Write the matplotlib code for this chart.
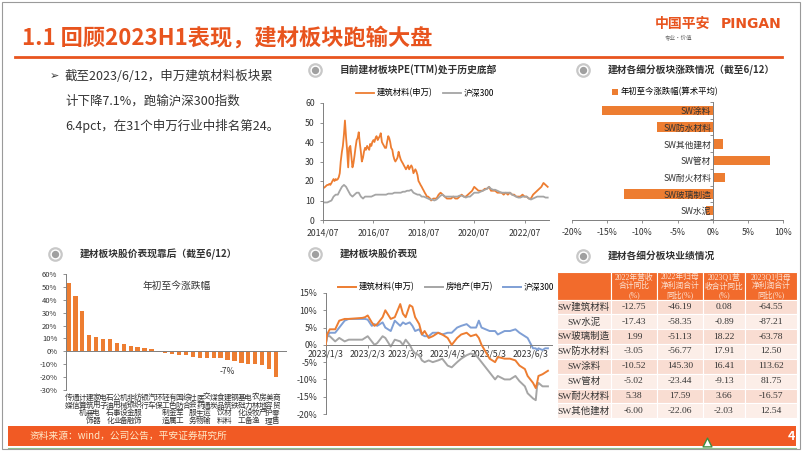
import numpy as np
import pandas as pd
import matplotlib
matplotlib.use('Agg')
import matplotlib.pyplot as plt
from matplotlib.patches import Rectangle
import matplotlib.dates as mdates
from matplotlib.ticker import FuncFormatter

plt.rcParams['font.family'] = ['Noto Sans CJK SC', 'DejaVu Sans']
plt.rcParams['axes.unicode_minus'] = False

W, H = 802, 451
ORANGE = '#ED7D31'
GRAY = '#A5A5A5'
BLUE = '#7F9FD5'
RED = '#E8541E'
TXT = '#333333'

# ---- PE(TTM) 数据 ----
pe_bm_dates = list(pd.date_range('2014-07-01', '2018-12-16', freq='SMS')) + \
    list(pd.date_range('2019-01-01', '2023-06-01', freq='MS'))
pe_bm = [17, 16.5, 17, 17.5, 18, 18, 18.5, 18, 19, 20, 21, 20,
         21, 20.5, 21, 22, 24, 30, 35, 38, 44, 51, 42, 36,
         27, 37, 38, 33, 27, 29, 33, 37, 41, 42, 45, 40,
         35, 30, 32, 35, 37, 36, 38, 37, 36, 39, 38, 40,
         41, 40, 42, 43, 41, 42, 43, 44.5, 40, 39, 38, 37,
         37, 40, 43, 42, 40, 37, 36, 33, 31, 30, 31, 32,
         35, 33, 31, 30, 29, 28, 27, 26, 27, 28, 26, 27,
         28, 27, 24, 25, 26, 25, 23, 20, 19, 18, 17, 16,
         15, 14, 13, 12, 12, 11.5, 11, 10, 10.5, 11, 11, 11,
         11, 13, 14, 13, 12, 11, 11, 11, 12, 11, 11, 12,
         13, 12, 12, 13, 14, 15, 17, 16, 15, 15, 15, 16,
         16, 17, 15, 15, 15, 14, 14, 14, 13, 14, 13, 14,
         13, 13, 12, 12, 12, 13, 12, 12, 11, 11, 13, 14,
         15, 16, 17, 19, 18, 17]
pe_hs_dates = pd.date_range('2014-07-01', '2023-06-01', freq='MS')
pe_hs = [9, 9, 9, 9.5, 10, 12,
         13, 13, 15, 17, 18, 17, 15, 13, 12, 13, 14, 14,
         12, 11, 12, 12, 12, 12, 12.5, 13, 13, 13, 13, 13,
         13, 13.5, 13.5, 13.5, 14, 14, 14, 14, 14.5, 14.5, 15, 15,
         15.5, 14, 13.5, 13, 13, 12, 12, 11.5, 11, 10.5, 10.5, 10,
         10.5, 11.5, 12.5, 13, 12, 12, 12, 12, 12, 12, 12, 12.5,
         12.5, 12, 11.5, 12, 12, 13, 14, 14, 14, 14.5, 15, 15.5,
         16, 17, 16, 15.5, 15.5, 15, 14.5, 14, 14, 14, 14, 14,
         13, 12.5, 12, 11.5, 11.5, 12, 12, 12, 11, 10.5, 11, 11.5,
         12, 12, 12, 12, 11.5, 11.5]

# ---- 细分板块涨跌 ----
sub_names = ['SW涂料', 'SW防水材料', 'SW其他建材', 'SW管材', 'SW耐火材料', 'SW玻璃制造', 'SW水泥']
sub_chg = [-15.7, -7.9, 1.5, 8.2, 1.7, -12.6, -0.9]

# ---- 申万行业涨跌 ----
ind_names = ['传媒', '通信', '计算机', '建筑装饰', '家用电器', '电子', '石油石化', '公用事业',
             '机械设备', '非银金融', '纺织服饰', '银行', '汽车', '环保', '轻工制造', '有色金属',
             '国防军工', '综合', '社会服务', '医药生物', '交通运输', '煤炭', '食品饮料', '建筑材料',
             '钢铁', '基础化工', '电力设备', '农林牧渔', '房地产', '美容护理', '商贸零售']
ind_chg = [53, 43.4, 31, 12.4, 10.9, 9.8, 9.8, 6.2, 5.7, 4.4, 3.1, 2.8, 2.1, -0.5, -1.5, -2.3,
           -2.6, -3.1, -4.4, -4.9, -4.9, -5.2, -5.4, -7.1, -7.7, -9, -10, -10.3, -11, -14, -19.9]

# ---- 2023 股价表现 ----
px_dates = ['01-03', '01-04', '01-06', '01-10', '01-13', '01-17', '01-20', '01-30', '02-01', '02-03',
            '02-06', '02-08', '02-10', '02-14', '02-16', '02-20', '02-23', '02-27', '03-01', '03-03',
            '03-06', '03-08', '03-10', '03-13', '03-15', '03-17', '03-20', '03-23', '03-27', '03-30',
            '04-03', '04-06', '04-10', '04-13', '04-17', '04-20', '04-24', '04-26', '04-28', '05-04',
            '05-08', '05-10', '05-15', '05-19', '05-23', '05-26', '05-30', '06-01', '06-05', '06-07',
            '06-08', '06-09', '06-12', '06-14', '06-16']
px_bm = [0, 3, 4.5, 4.5, 7, 7.5, 7.5, 7.8, 8, 8.5, 6.5, 5.5, 6, 8, 10, 7.5, 8, 11.8, 9, 8,
         11.5, 11, 8, 6, 3, 4, 2, 2.5, 3.5, 3, 2, 0, 2, 3, 3.5, 2.5, 3, 2, 0, -4,
         -5, -3.5, -4, -4, -4.5, -6, -7, -9, -11, -12.5, -11, -9, -8.5, -8, -7.5]
px_re = [0, 2.5, 2.5, 1, 2, 1, 1.5, 1.5, 2, 2.5, 1, 0, 0.5, 2.5, 2, -0.5, 1.5, 1, 0, 1.5,
         0, -1.5, -2.5, -3, -4.5, -5, -4.5, -5, -4.5, -4, -6, -6.5, -5, -4, -3, -2.5, -3, -4, -5, -8,
         -10, -9, -10, -10, -9, -10.5, -12, -14, -15.5, -16, -12, -11, -12, -12, -12]
px_hs = [0, 2.5, 3.5, 3.5, 5, 7, 7.5, 7.5, 7.5, 7.3, 5.5, 6, 5.5, 6.5, 5, 4, 7, 5.5, 6.5, 6,
         6.5, 5.5, 4, 4.5, 3, 2.5, 2.5, 3.5, 3.5, 3, 3.5, 3.5, 5, 5.5, 6, 5, 5, 7, 5, 4,
         4, 3, 4, 4, 4.5, 3.5, 2.5, 2, -1, -1, -1.5, -1, -1.5, -1, -1]

# ---- 业绩表 ----
tbl_header = ['', '2022年营收\n合计同比\n(%)', '2022年归母\n净利润合计\n同比(%)',
              '2023Q1营\n收合计同比\n(%)', '2023Q1归母\n净利润合计\n同比(%)']
tbl_rows = ['SW建筑材料', 'SW水泥', 'SW玻璃制造', 'SW防水材料', 'SW涂料', 'SW管材', 'SW耐火材料', 'SW其他建材']
rev22 = ['-12.75', '-17.43', '1.99', '-3.05', '-10.52', '-5.02', '5.38', '-6.00']
np22 = ['-46.19', '-58.35', '-51.13', '-56.77', '145.30', '-23.44', '17.59', '-22.06']
rev23 = ['0.08', '-0.89', '18.22', '17.91', '16.41', '-9.13', '3.66', '-2.03']
np23 = ['-64.55', '-87.21', '-63.78', '12.50', '113.62', '81.75', '-16.57', '12.54']


def rect(x0, y0, x1, y1):
    return [x0 / W, 1 - y1 / H, (x1 - x0) / W, (y1 - y0) / H]


def style(ax, fs=6):
    for s in ['top', 'right']:
        ax.spines[s].set_visible(False)
    for s in ['left', 'bottom']:
        ax.spines[s].set_color('#7F7F7F')
        ax.spines[s].set_linewidth(0.7)
    ax.tick_params(labelsize=fs, colors=TXT, length=2.5, width=0.6)
    ax.tick_params(axis='both', color='#7F7F7F')


pct = FuncFormatter(lambda v, p: f'{v:.0f}%')

fig = plt.figure(figsize=(W / 100, H / 100), dpi=100)

# PE chart
ax1 = fig.add_axes(rect(323, 103, 549, 220))
style(ax1, fs=6.3)
ax1.plot(pe_bm_dates, pe_bm, color=ORANGE, lw=1.3, label='建筑材料(申万)')
ax1.plot(pe_hs_dates, pe_hs, color=GRAY, lw=1.3, label='沪深300')
ax1.set_ylim(0, 60)
ax1.set_yticks(range(0, 61, 10))
ax1.set_xlim(pd.Timestamp('2014-07-01'), pd.Timestamp('2023-06-20'))
ax1.set_xticks([pd.Timestamp(f'{y}-07-01') for y in range(2014, 2023, 2)])
ax1.xaxis.set_major_formatter(mdates.DateFormatter('%Y/%m'))
ax1.legend(loc='center', bbox_to_anchor=(425 / W, 1 - 93 / H), bbox_transform=fig.transFigure,
           ncol=2, frameon=False, fontsize=6, handlelength=2.2, columnspacing=1.2, handletextpad=0.3)

# 细分板块涨跌
ax2 = fig.add_axes(rect(572, 102, 783, 220))
style(ax2, fs=6.3)
yy = np.arange(len(sub_names))
ax2.barh(yy, sub_chg, height=0.56, color=ORANGE, label='年初至今涨跌幅(算术平均)')
ax2.set_xlim(-20, 10)
ax2.set_ylim(6.55, -0.3)
ax2.set_xticks(range(-20, 11, 5))
ax2.xaxis.set_major_formatter(pct)
ax2.spines['left'].set_position(('data', 0))
ax2.set_yticks(yy)
ax2.set_yticklabels(sub_names)
ax2.tick_params(axis='y', which='major', length=0, pad=1, labelsize=6.3)
ax2.set_yticks(np.arange(-0.5, 7, 1), minor=True)
ax2.tick_params(axis='y', which='minor', length=2.5, color='#7F7F7F')
ax2.legend(loc='center', bbox_to_anchor=(665 / W, 1 - 92 / H), bbox_transform=fig.transFigure,
           frameon=False, fontsize=6, handlelength=0.8, handleheight=0.8, handletextpad=0.3)

# 申万行业
ax3 = fig.add_axes(rect(65.7, 274.3, 287, 389.7))
style(ax3, fs=5.5)
xx = np.arange(len(ind_names))
ax3.bar(xx, ind_chg, width=0.62, color=ORANGE)
ax3.axhline(0, color='#7F7F7F', lw=0.7)
ax3.spines['bottom'].set_visible(False)
ax3.set_ylim(-30, 60)
ax3.set_yticks(range(-30, 61, 10))
ax3.yaxis.set_major_formatter(pct)
ax3.set_xlim(-0.4, 31.6)
ax3.set_xticks(xx)
ax3.set_xticklabels(['\n'.join(n) for n in ind_names], fontsize=5.5, linespacing=0.95)
ax3.tick_params(axis='x', length=0, pad=3)
ax3.text(0.5, 0.9, '年初至今涨跌幅', transform=ax3.transAxes, ha='center', va='center',
         fontsize=7, color=TXT)
ax3.annotate('-7%', (23, ind_chg[23]), xytext=(0, -5), textcoords='offset points',
             ha='center', va='top', fontsize=6, color=TXT)

# 股价表现
ax4 = fig.add_axes(rect(325.7, 293, 552, 414))
style(ax4, fs=6.3)
d4 = pd.to_datetime(['2023-' + d for d in px_dates])
ax4.plot(d4, px_bm, color=ORANGE, lw=1.4, label='建筑材料(申万)', zorder=3)
ax4.plot(d4, px_re, color=GRAY, lw=1.4, label='房地产(申万)')
ax4.plot(d4, px_hs, color=BLUE, lw=1.4, label='沪深300')
ax4.set_ylim(-20, 15)
ax4.set_yticks(range(-20, 16, 5))
ax4.yaxis.set_major_formatter(pct)
ax4.spines['bottom'].set_position(('data', 0))
ax4.set_xlim(pd.Timestamp('2023-01-03'), pd.Timestamp('2023-06-19'))
ax4.set_xticks(pd.to_datetime(['2023-01-03', '2023-02-03', '2023-03-03', '2023-04-03',
                               '2023-05-03', '2023-06-03']))
ax4.set_xticklabels(['2023/1/3', '2023/2/3', '2023/3/3', '2023/4/3', '2023/5/3', '2023/6/3'])
ax4.tick_params(axis='x', pad=1)
ax4.legend(loc='center', bbox_to_anchor=(446 / W, 1 - 287 / H), bbox_transform=fig.transFigure,
           ncol=3, frameon=False, fontsize=6, handlelength=2.2, columnspacing=1.2, handletextpad=0.3)

# overlay: text, table, decorations
ov = fig.add_axes([0, 0, 1, 1], zorder=10)
ov.set_xlim(0, W)
ov.set_ylim(H, 0)
ov.axis('off')

ov.add_patch(Rectangle((1.5, 1.5), W - 3.5, H - 3.5, fill=False, ec='#9A9A9A', lw=0.8))
ov.text(22, 38, '1.1 回顾2023H1表现，建材板块跑输大盘', fontsize=16, color=RED,
        va='center', ha='left', fontweight='bold')
ov.plot([15, 782], [57, 57], color=RED, lw=2)
ov.text(655, 24, '中国平安', fontsize=10, color=RED, va='center', ha='left', fontweight='bold')
ov.text(721, 24, 'PINGAN', fontsize=10, color=RED, va='center', ha='left',
        family=['DejaVu Sans'], fontweight='bold')
ov.text(665, 37, '专业·价值', fontsize=4, color='#666666', va='center', ha='left')

ov.text(50, 76, '➢', fontsize=8, color=TXT, va='center', ha='left', family=['DejaVu Sans'])
lines = ['截至2023/6/12，申万建筑材料板块累', '计下降7.1%，跑输沪深300指数',
         '6.4pct，在31个申万行业中排名第24。']
for i, s in enumerate(lines):
    ov.text(65, 76 + 25 * i, s, fontsize=9, color=TXT, va='center', ha='left')

heads = [(315, 70, '目前建材板块PE(TTM)处于历史底部'), (583, 70, '建材各细分板块涨跌情况（截至6/12）'),
         (55, 254, '建材板块股价表现靠后（截至6/12）'), (315, 254, '建材板块股价表现'),
         (583, 256, '建材各细分板块业绩情况')]
for x, y, s in heads:
    ov.scatter([x], [y], s=80, facecolor='white', edgecolor='#C8C8C8', linewidths=1.6)
    ov.scatter([x], [y], s=18, color='#A0A0A0')
    ov.text(x + 25, y, s, fontsize=7, color=TXT, va='center', ha='left', fontweight='bold')

# table
col_x = [557, 611, 657, 703, 745, 797]
head_top, head_bot = 272, 299.5
row_h = 14.85
serif = ['Liberation Serif', 'Noto Sans CJK SC']
for j in range(5):
    ov.add_patch(Rectangle((col_x[j], head_top), col_x[j + 1] - col_x[j], head_bot - head_top,
                           fc='#F26B2C', ec='white', lw=0.8))
    if tbl_header[j]:
        ov.text((col_x[j] + col_x[j + 1]) / 2, (head_top + head_bot) / 2 + 0.5, tbl_header[j],
                fontsize=5.6, color='#FCE3D4', ha='center', va='center', linespacing=1.1,
                family=serif)
cols = [tbl_rows, rev22, np22, rev23, np23]
for i in range(len(tbl_rows)):
    y0 = head_bot + i * row_h
    fc = '#F9DDD2' if i % 2 == 0 else '#FCEEE8'
    for j in range(5):
        ov.add_patch(Rectangle((col_x[j], y0), col_x[j + 1] - col_x[j], row_h,
                               fc=fc, ec='white', lw=0.8))
        ov.text((col_x[j] + col_x[j + 1]) / 2, y0 + row_h / 2, cols[j][i], fontsize=6.8,
                color=TXT, ha='center', va='center', family=serif)

# footer
ov.add_patch(Rectangle((8, 426), 788, 20, fc='#F15A24', ec='none'))
ov.plot([8, 796], [447.5, 447.5], color='#8FBF8F', lw=0.8)
ov.text(30, 436, '资料来源：wind，公司公告，平安证券研究所', fontsize=7, color='#FFE9C8',
        va='center', ha='left')
ov.text(791, 436, '4', fontsize=9, color='white', va='center', ha='center', fontweight='bold')
ov.scatter([707], [442], marker='^', s=40, facecolor='white', edgecolor='#3E8E41', linewidths=1)

fig.savefig('out.png', dpi=100)
